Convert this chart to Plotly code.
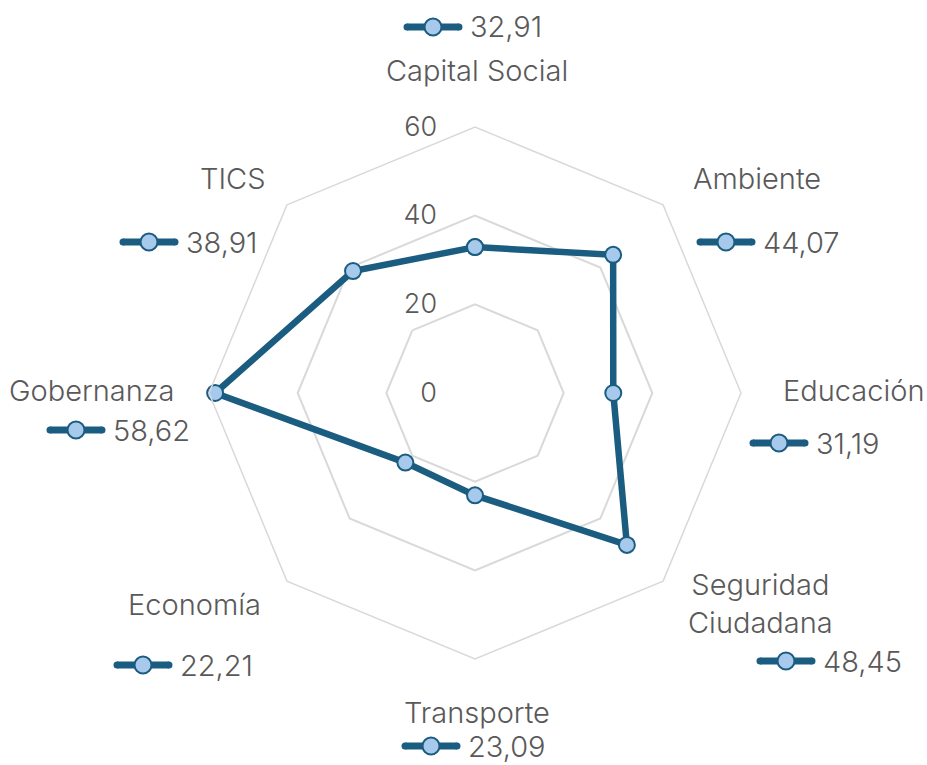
import plotly.graph_objects as go

# Índice por dimensión
categories = ["Capital Social", "Ambiente", "Educación", "Seguridad Ciudadana",
              "Transporte", "Economía", "Gobernanza", "TICS"]
values = [32.91, 44.07, 31.19, 48.45, 23.09, 22.21, 58.62, 38.91]
radial_ticks = [0, 20, 40, 60]

W, H = 927, 765
LINE = "#1b5d80"
FILL = "#a6c9ec"
GRID = "#d9d9d9"
TEXT = "#595959"
FONT = "Inter"
FSIZE = 29

# Label block placement in pixels: (name x, name y, key left x, key y)
label_layout = [
    (477, 70, 404, 27),
    (757, 178, 697, 242),
    (853, 390, 750, 443),
    (760, 603, 757, 661),
    (477, 712, 402, 746),
    (194, 604, 114, 665),
    (91, 390, 47, 430),
    (232, 178, 120, 242),
]

def px(x):
    return x / W

def py(y):
    return 1 - y / H

fig = go.Figure()
fig.add_trace(go.Scatterpolar(
    r=values + values[:1],
    theta=categories + categories[:1],
    mode="lines+markers",
    line=dict(color=LINE, width=6.5),
    marker=dict(size=16, color=FILL, line=dict(color=LINE, width=2)),
    showlegend=False,
    hoverinfo="skip",
))

annotations = []
shapes = []
for name, v, (nx, ny, kx, ky) in zip(categories, values, label_layout):
    label = "Seguridad<br>Ciudadana" if name == "Seguridad Ciudadana" else name
    annotations.append(dict(
        x=px(nx), y=py(ny), xref="paper", yref="paper", text=label,
        showarrow=False, xanchor="center", yanchor="middle",
        font=dict(family=FONT, size=FSIZE, color=TEXT, weight=300),
    ))
    annotations.append(dict(
        x=px(kx + 64), y=py(ky), xref="paper", yref="paper",
        text=f"{v:.2f}".replace(".", ","),
        showarrow=False, xanchor="left", yanchor="middle",
        font=dict(family=FONT, size=FSIZE, color=TEXT, weight=300),
    ))
    shapes.append(dict(
        type="line", xref="paper", yref="paper",
        x0=px(kx + 3), x1=px(kx + 55), y0=py(ky), y1=py(ky),
        line=dict(color=LINE, width=7),
    ))
    for cx in (kx + 3, kx + 55):
        shapes.append(dict(
            type="circle", xref="paper", yref="paper",
            x0=px(cx - 3.5), x1=px(cx + 3.5),
            y0=py(ky - 3.5), y1=py(ky + 3.5),
            fillcolor=LINE, line=dict(width=0),
        ))
    shapes.append(dict(
        type="circle", xref="paper", yref="paper",
        x0=px(kx + 29 - 8.5), x1=px(kx + 29 + 8.5),
        y0=py(ky - 8.5), y1=py(ky + 8.5),
        fillcolor=FILL, line=dict(color=LINE, width=2),
    ))

fig.update_layout(
    width=W, height=H,
    margin=dict(l=0, r=0, t=0, b=0),
    paper_bgcolor="white",
    plot_bgcolor="white",
    polar=dict(
        domain=dict(x=[px(209), px(741)], y=[py(659), py(127)]),
        bgcolor="white",
        gridshape="linear",
        radialaxis=dict(
            range=[0, 60], tickvals=radial_ticks, angle=90, tickangle=90,
            side="counterclockwise",
            showline=False, gridcolor=GRID, gridwidth=1.5,
            ticks="outside", ticklen=28, tickcolor="rgba(0,0,0,0)",
            tickfont=dict(family=FONT, size=27, color=TEXT, weight=300),
        ),
        angularaxis=dict(
            direction="clockwise", rotation=90,
            showgrid=False, showticklabels=False, ticks="",
            linecolor=GRID, linewidth=1.5,
        ),
    ),
    annotations=annotations,
    shapes=shapes,
)

fig.write_html("out.html")
